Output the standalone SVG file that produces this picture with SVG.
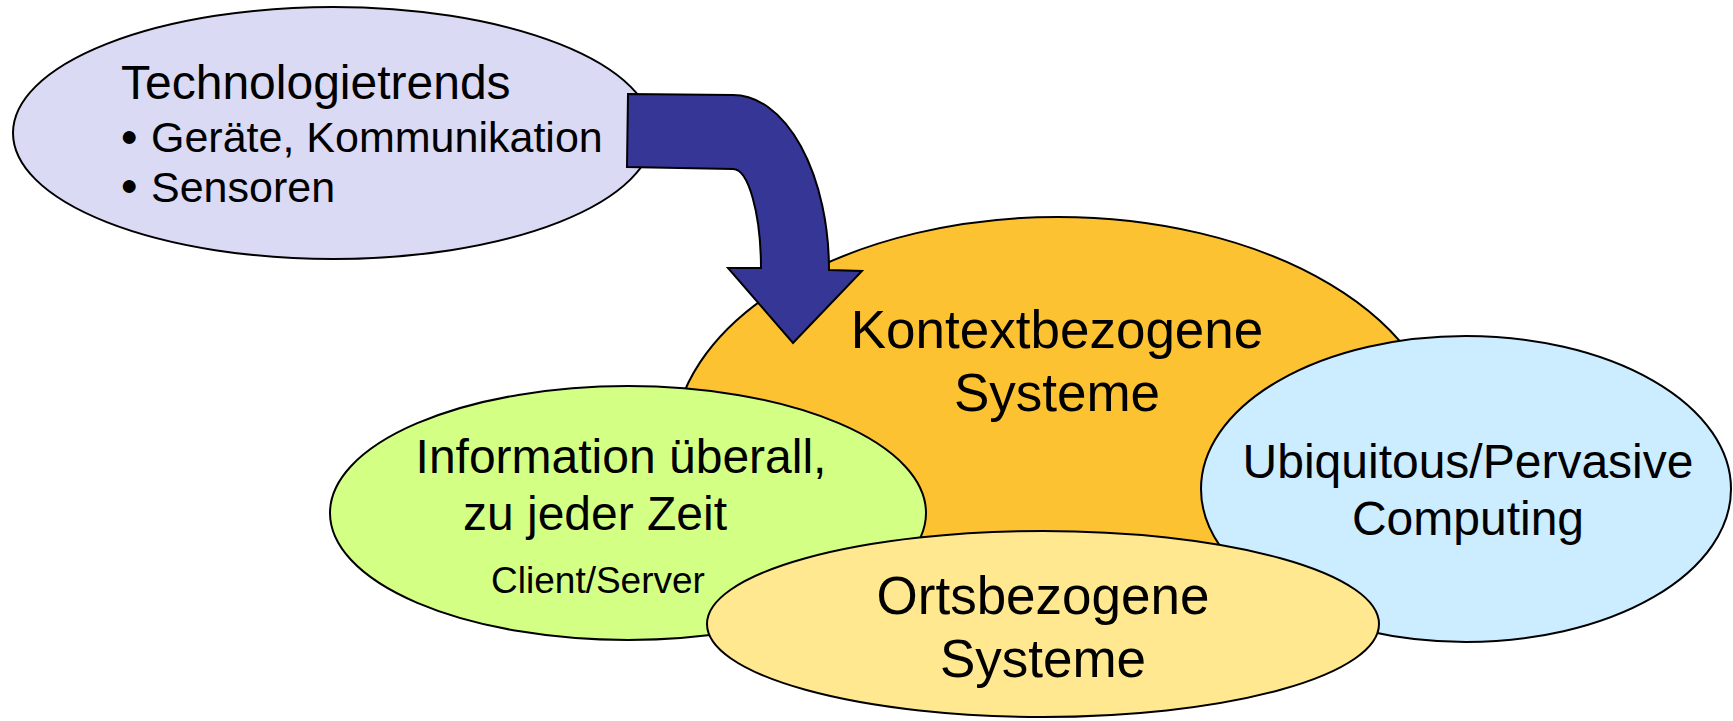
<svg xmlns="http://www.w3.org/2000/svg" width="1733" height="721" viewBox="0 0 1733 721">
<style>
.e{stroke:#000;stroke-width:2}
.t{font-family:"Liberation Sans",Arial,sans-serif;fill:#000}
.m{text-anchor:middle}
.b{font-size:30px}
</style>
<rect width="1733" height="721" fill="#fff"/>
<g id="technologietrends">
<ellipse class="e" cx="333" cy="133" rx="320" ry="126" fill="#DADAF4"/>
<text class="t" x="121" y="99" font-size="48">Technologietrends</text>
<text class="t b" x="120" y="146">●</text>
<text class="t" x="151" y="152" font-size="43">Geräte, Kommunikation</text>
<text class="t b" x="120" y="195">●</text>
<text class="t" x="151" y="202" font-size="43">Sensoren</text>
</g>
<g id="kontextbezogene">
<ellipse class="e" cx="1058" cy="447" rx="385" ry="230" fill="#FDC232"/>
<text class="t m" x="1057" y="348" font-size="53">Kontextbezogene</text>
<text class="t m" x="1057" y="411" font-size="53">Systeme</text>
</g>
<g id="information">
<ellipse class="e" cx="628" cy="513" rx="298" ry="127" fill="#D4FF85"/>
<text class="t m" x="621" y="473" font-size="48">Information überall,</text>
<text class="t m" x="595" y="530" font-size="48">zu jeder Zeit</text>
<text class="t m" x="598" y="593" font-size="37">Client/Server</text>
</g>
<g id="ubiquitous">
<ellipse class="e" cx="1466" cy="489" rx="265" ry="153" fill="#CCECFF"/>
<text class="t m" x="1468" y="478" font-size="48">Ubiquitous/Pervasive</text>
<text class="t m" x="1468" y="535" font-size="48">Computing</text>
</g>
<g id="ortsbezogene">
<ellipse class="e" cx="1043" cy="624" rx="336" ry="93" fill="#FFE88F"/>
<text class="t m" x="1043" y="614" font-size="53">Ortsbezogene</text>
<text class="t m" x="1043" y="677" font-size="53">Systeme</text>
</g>
<g id="connectors">
<path class="e" fill="#363696" d="M628 94 L733 95 A96 175 0 0 1 829 270 L862 271 L793 343 L728 268 L761 268 A28 100 0 0 0 733 169 L627 167 Z"/>
</g>
</svg>
